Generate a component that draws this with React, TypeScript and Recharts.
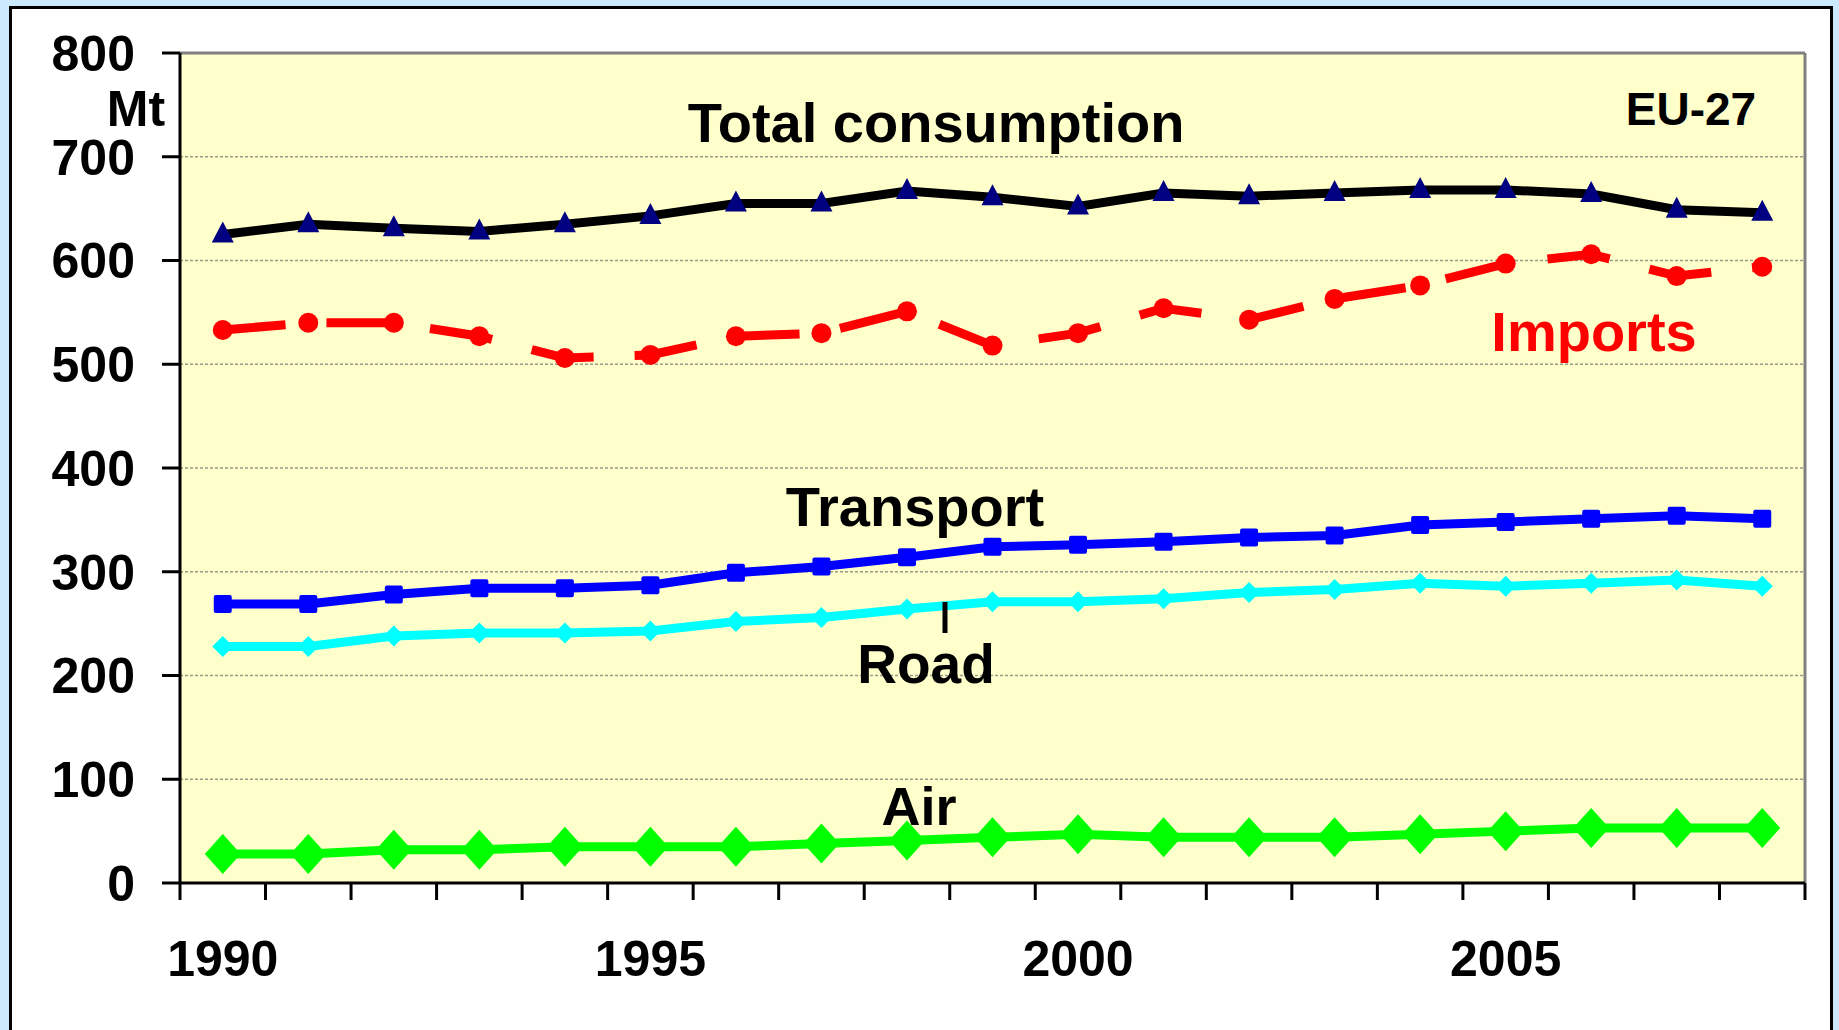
import { LineChart, Line, XAxis, YAxis, CartesianGrid, ReferenceLine } from "recharts"

// Oil consumption EU-27, 1990-2008 (Mt)
const YEARS = [1990, 1991, 1992, 1993, 1994, 1995, 1996, 1997, 1998, 1999, 2000, 2001, 2002, 2003, 2004, 2005, 2006, 2007, 2008]
const TOTAL = [625, 635, 631, 628, 635, 643, 655, 655, 667, 661, 652, 665, 662, 665, 668, 668, 664, 649, 646]
const IMPORTS = [533, 540, 540, 527, 506, 509, 527, 530, 551, 518, 530, 554, 543, 563, 576, 597, 606, 585, 594]
const TRANSPORT = [269, 269, 278, 284, 284, 287, 299, 305, 314, 324, 326, 329, 333, 335, 345, 348, 351, 354, 351]
const ROAD = [228, 228, 238, 241, 241, 243, 252, 256, 264, 271, 271, 274, 280, 283, 289, 286, 289, 292, 286]
const AIR = [28, 28, 32, 32, 35, 35, 35, 38, 41, 44, 47, 44, 44, 44, 47, 50, 53, 53, 53]

const Y_TICKS = [0, 100, 200, 300, 400, 500, 600, 700, 800]
const YEAR_LABELS = [1990, 1995, 2000, 2005]

const data = YEARS.map((year, i) => ({
  year,
  total: TOTAL[i],
  imports: IMPORTS[i],
  transport: TRANSPORT[i],
  road: ROAD[i],
  air: AIR[i],
}))

// category boundaries, where Excel puts its tick marks
const BOUNDS = [...YEARS.map((y) => y - 0.5), YEARS[YEARS.length - 1] + 0.5]
const X_DOMAIN = [BOUNDS[0], BOUNDS[BOUNDS.length - 1]]

const FONT = "Arial, 'Liberation Sans', sans-serif"
const tickStyle = { fill: "#000", fontSize: 50, fontWeight: 700, fontFamily: FONT }
const X_TICK = 17

function BoundTick(p: any) {
  const { x, y } = p
  return <line x1={x} y1={y - X_TICK} x2={x} y2={y} stroke="#000" strokeWidth={3} />
}

function Triangle(p: any) {
  const { cx, cy } = p
  if (cx == null || cy == null) return <g key={p.key} />
  return <polygon key={p.key} points={`${cx},${cy - 13} ${cx + 11},${cy + 8} ${cx - 11},${cy + 8}`} fill="#000080" />
}
function Circle(p: any) {
  const { cx, cy } = p
  if (cx == null || cy == null) return <g key={p.key} />
  return <circle key={p.key} cx={cx} cy={cy} r={10} fill="#ff0000" />
}
function Square(p: any) {
  const { cx, cy } = p
  if (cx == null || cy == null) return <g key={p.key} />
  return <rect key={p.key} x={cx - 9} y={cy - 9} width={18} height={18} rx={2} fill="#0000ff" />
}
function makeDiamond(w: number, h: number, fill: string) {
  return (p: any) => {
    const { cx, cy } = p
    if (cx == null || cy == null) return <g key={p.key} />
    return (
      <polygon
        key={p.key}
        points={`${cx},${cy - h / 2} ${cx + w / 2},${cy} ${cx},${cy + h / 2} ${cx - w / 2},${cy}`}
        fill={fill}
      />
    )
  }
}
const RoadDiamond = makeDiamond(21, 21, "#00ffff")
const AirDiamond = makeDiamond(36, 40, "#00ff00")

const labelBase: any = {
  position: "absolute",
  fontFamily: FONT,
  fontWeight: 700,
  whiteSpace: "nowrap",
  transform: "translate(-50%, -50%)",
  lineHeight: 1,
}

export default function App() {
  return (
    <div
      style={{
        position: "absolute",
        left: 0,
        top: 0,
        width: 1839,
        height: 1030,
        overflow: "hidden",
        background: "#cceaff",
      }}
    >
      <div
        style={{
          position: "absolute",
          left: 9,
          top: 6,
          width: 1818,
          height: 1040,
          background: "#fff",
          border: "3px solid #000",
        }}
      />
      <div style={{ position: "absolute", left: 0, top: 0 }}>
        <LineChart width={1839} height={1030} data={data} margin={{ top: 53, right: 34, left: 0, bottom: 127 }}>
          <CartesianGrid
            vertical={false}
            fill="#ffffcc"
            stroke="#9a9a8a"
            strokeDasharray="3 2"
            strokeWidth={1.5}
          />
          <XAxis
            type="number"
            dataKey="year"
            domain={X_DOMAIN}
            ticks={BOUNDS}
            interval={0}
            allowDataOverflow
            tick={BoundTick}
            tickSize={X_TICK}
            tickMargin={0}
            height={20}
            axisLine={{ stroke: "#000", strokeWidth: 3 }}
            tickLine={false}
          />
          <YAxis
            type="number"
            domain={[0, 800]}
            ticks={Y_TICKS}
            interval={0}
            width={180}
            tick={tickStyle}
            tickSize={18}
            tickMargin={27}
            axisLine={{ stroke: "#000", strokeWidth: 3 }}
            tickLine={{ stroke: "#000", strokeWidth: 3 }}
          />
          <ReferenceLine y={800} stroke="#808080" strokeWidth={3} />
          <ReferenceLine x={X_DOMAIN[1]} stroke="#808080" strokeWidth={3} />
          {YEAR_LABELS.map((yr) => (
            <ReferenceLine
              key={yr}
              x={yr}
              stroke="none"
              label={{ value: String(yr), position: "bottom", offset: 57, ...tickStyle }}
            />
          ))}
          <Line type="linear" dataKey="air" stroke="#00ff00" strokeWidth={9} dot={AirDiamond} isAnimationActive={false} />
          <Line type="linear" dataKey="road" stroke="#00ffff" strokeWidth={9} dot={RoadDiamond} isAnimationActive={false} />
          <Line type="linear" dataKey="transport" stroke="#0000ff" strokeWidth={9} dot={Square} isAnimationActive={false} />
          <Line
            type="linear"
            dataKey="imports"
            stroke="#ff0000"
            strokeWidth={9}
            strokeDasharray="63 41"
            dot={Circle}
            isAnimationActive={false}
          />
          <Line type="linear" dataKey="total" stroke="#000" strokeWidth={9} dot={Triangle} isAnimationActive={false} />
        </LineChart>
      </div>
      <div style={{ ...labelBase, left: 136, top: 109, fontSize: 50 }}>Mt</div>
      <div style={{ ...labelBase, left: 936, top: 123, fontSize: 56 }}>Total consumption</div>
      <div style={{ ...labelBase, left: 1691, top: 109, fontSize: 46 }}>EU-27</div>
      <div style={{ ...labelBase, left: 1594, top: 332, fontSize: 56, color: "#ff0000" }}>Imports</div>
      <div style={{ ...labelBase, left: 915, top: 507, fontSize: 56 }}>Transport</div>
      <div style={{ ...labelBase, left: 926, top: 664, fontSize: 55 }}>Road</div>
      <div style={{ ...labelBase, left: 919, top: 806, fontSize: 54 }}>Air</div>
      <svg style={{ position: "absolute", left: 0, top: 0 }} width={1839} height={1030}>
        <line x1={945} y1={602} x2={945} y2={633} stroke="#000" strokeWidth={5} />
      </svg>
    </div>
  )
}
